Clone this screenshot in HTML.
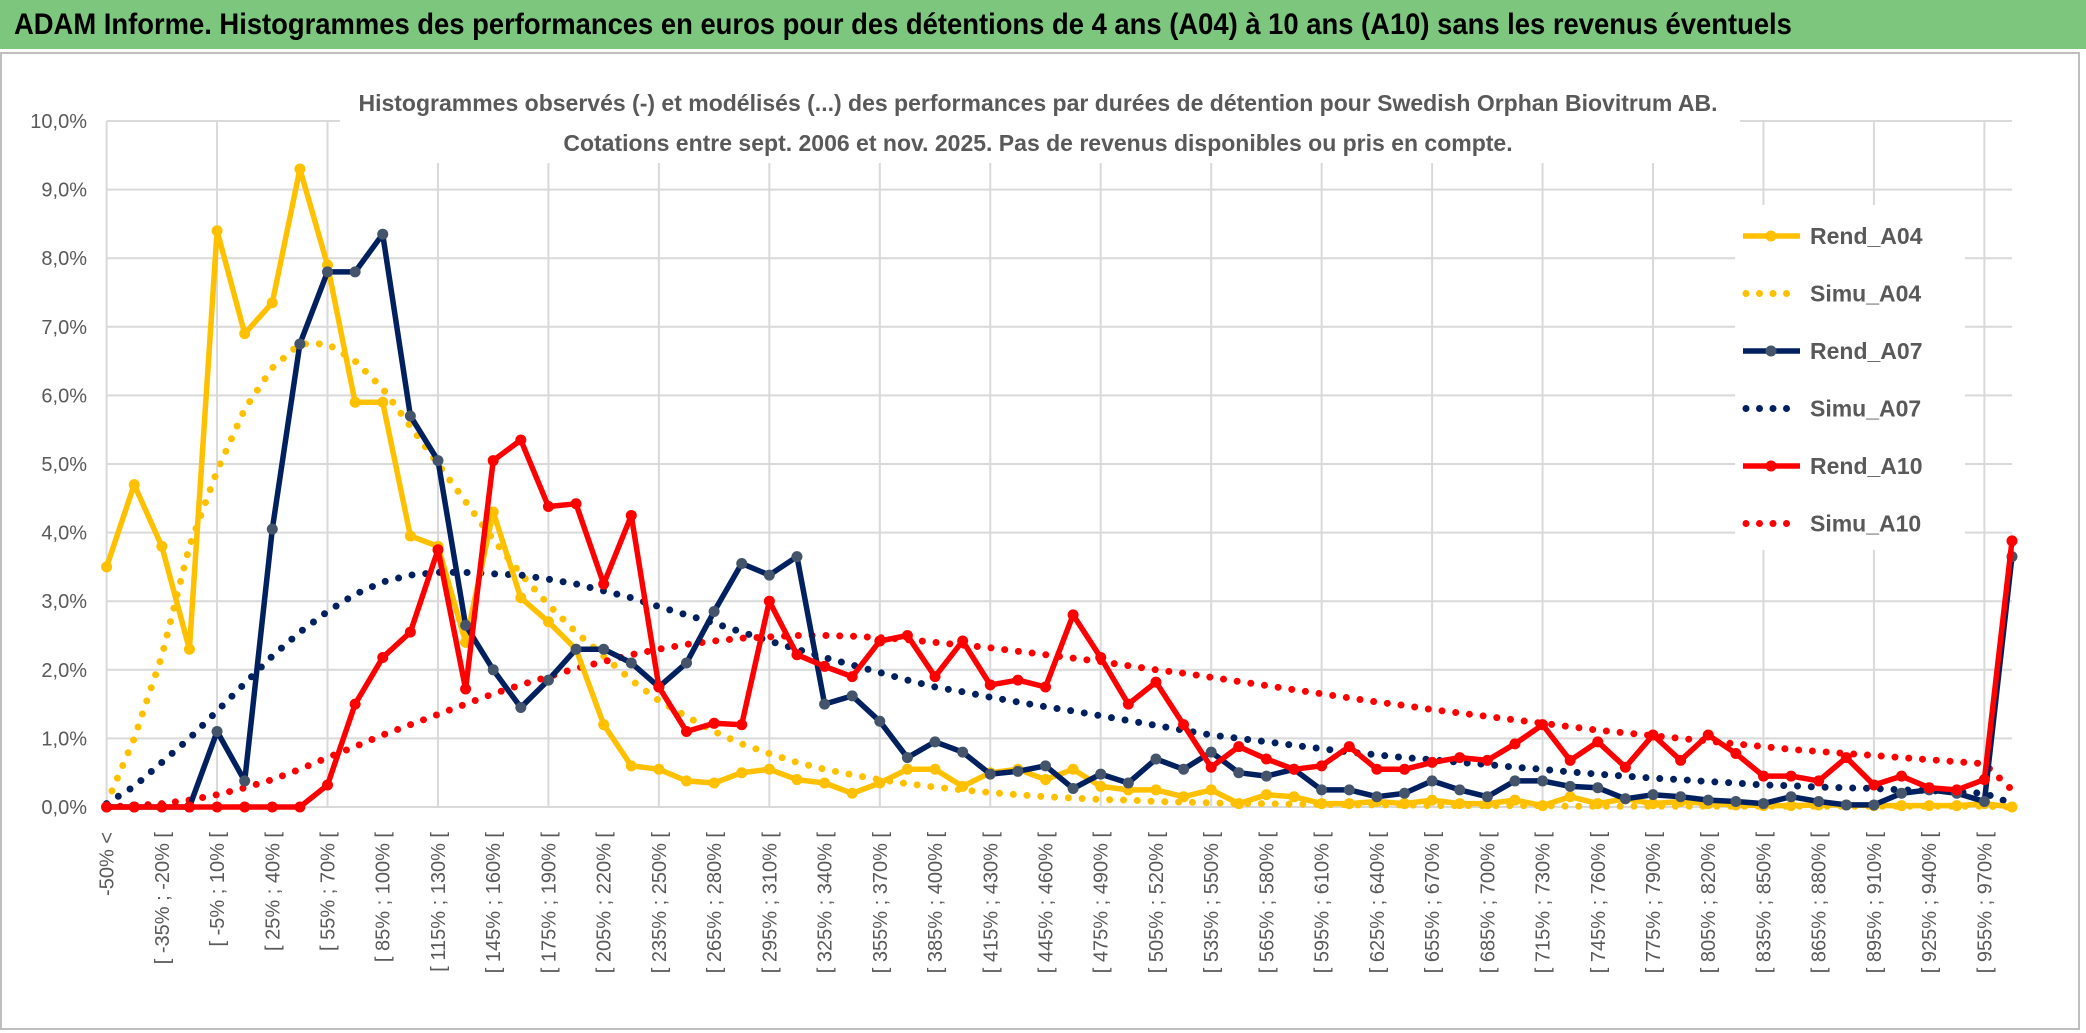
<!DOCTYPE html>
<html><head><meta charset="utf-8"><style>
body{margin:0;width:2086px;height:1033px;overflow:hidden;background:#fff;font-family:"Liberation Sans",sans-serif}
#title{position:absolute;left:0;top:0;width:2086px;height:49px;background:#7dc67e;color:#000}
#title span{position:absolute;left:14px;top:0;font-weight:bold;font-size:30px;line-height:49px;white-space:nowrap;transform:scaleX(0.913);transform-origin:0 50%}
svg{position:absolute;left:0;top:0}
</style></head><body>
<div id="title"><span>ADAM Informe. Histogrammes des performances en euros pour des détentions de 4 ans (A04) à 10 ans (A10) sans les revenus éventuels</span></div>
<svg id="chart" width="2086" height="1033"></svg>
<script>
const categoryStarts=[-50,-35,-20,-5,10,25,40,55,70,85,100,115,130,145,160,175,190,205,220,235,250,265,280,295,310,325,340,355,370,385,400,415,430,445,460,475,490,505,520,535,550,565,580,595,610,625,640,655,670,685,700,715,730,745,760,775,790,805,820,835,850,865,880,895,910,925,940,955,970];
const yTicks=[0,1,2,3,4,5,6,7,8,9,10];
const rendA04=[3.5,4.7,3.8,2.3,8.4,6.9,7.35,9.3,7.9,5.9,5.9,3.95,3.8,2.4,4.3,3.05,2.7,2.3,1.2,0.6,0.55,0.38,0.35,0.5,0.55,0.4,0.35,0.2,0.35,0.55,0.55,0.3,0.5,0.55,0.4,0.55,0.3,0.25,0.25,0.15,0.25,0.05,0.18,0.15,0.05,0.05,0.08,0.05,0.1,0.05,0.05,0.1,0.02,0.15,0.05,0.12,0.05,0.08,0.05,0.03,0.02,0.02,0.03,0.03,0.02,0.02,0.02,0.02,0.05,0.0];
const simuA04=[0.05,1.0,2.2,3.8,4.9,5.8,6.4,6.75,6.75,6.5,6.1,5.55,5.0,4.45,3.9,3.4,2.95,2.55,2.2,1.85,1.55,1.32,1.1,0.92,0.78,0.65,0.55,0.47,0.4,0.34,0.29,0.25,0.21,0.18,0.15,0.13,0.11,0.1,0.08,0.07,0.06,0.05,0.05,0.04,0.04,0.03,0.03,0.03,0.02,0.02,0.02,0.02,0.02,0.01,0.01,0.01,0.01,0.01,0.01,0.01,0.01,0.01,0.01,0.01,0.01,0.01,0.01,0.01,0.01,0.0];
const rendA07=[0,0,0,0,1.1,0.38,4.05,6.75,7.8,7.8,8.35,5.7,5.05,2.65,2.0,1.45,1.85,2.3,2.3,2.1,1.75,2.1,2.85,3.55,3.38,3.65,1.5,1.62,1.25,0.72,0.95,0.8,0.48,0.52,0.6,0.27,0.48,0.35,0.7,0.55,0.8,0.5,0.45,0.55,0.25,0.25,0.15,0.2,0.38,0.25,0.15,0.38,0.38,0.3,0.28,0.12,0.18,0.15,0.1,0.08,0.05,0.15,0.08,0.03,0.03,0.2,0.25,0.2,0.08,3.65];
const simuA07=[0.05,0.3,0.65,1.0,1.4,1.8,2.2,2.55,2.85,3.1,3.28,3.38,3.42,3.42,3.4,3.38,3.32,3.25,3.15,3.05,2.92,2.8,2.68,2.55,2.42,2.3,2.18,2.07,1.96,1.85,1.75,1.68,1.6,1.53,1.46,1.4,1.33,1.26,1.19,1.12,1.05,1.0,0.95,0.9,0.85,0.8,0.76,0.72,0.69,0.65,0.62,0.58,0.55,0.51,0.48,0.45,0.42,0.4,0.37,0.35,0.32,0.31,0.29,0.28,0.27,0.25,0.24,0.22,0.2,0.05];
const rendA10=[0,0,0,0,0,0,0,0,0.32,1.5,2.18,2.55,3.75,1.72,5.05,5.35,4.38,4.42,3.25,4.25,1.75,1.1,1.22,1.2,3.0,2.22,2.05,1.9,2.42,2.5,1.9,2.42,1.78,1.85,1.75,2.8,2.18,1.5,1.82,1.2,0.58,0.88,0.7,0.55,0.6,0.88,0.55,0.55,0.65,0.72,0.68,0.92,1.2,0.68,0.95,0.58,1.05,0.68,1.05,0.78,0.45,0.45,0.38,0.72,0.32,0.45,0.28,0.25,0.4,3.88];
const simuA10=[0,0.02,0.05,0.1,0.18,0.28,0.4,0.55,0.72,0.88,1.05,1.2,1.35,1.5,1.65,1.78,1.9,2.02,2.12,2.22,2.3,2.37,2.42,2.46,2.48,2.5,2.5,2.49,2.47,2.44,2.4,2.36,2.32,2.27,2.22,2.17,2.12,2.06,2.0,1.95,1.89,1.83,1.77,1.71,1.65,1.59,1.53,1.48,1.42,1.37,1.32,1.27,1.22,1.17,1.12,1.08,1.04,1.0,0.96,0.92,0.88,0.84,0.81,0.78,0.75,0.72,0.69,0.66,0.63,0.25];

const NS='http://www.w3.org/2000/svg';
const svg=document.getElementById('chart');
const N=rendA04.length;
const X0=106.6,X1=2012,Y0=807,Y10=121;
const xs=i=>X0+(X1-X0)*i/(N-1);
const ys=v=>Y0-(Y0-Y10)*v/10;
function mk(tag,at,parent){const e=document.createElementNS(NS,tag);for(const k in at)e.setAttribute(k,at[k]);(parent||svg).appendChild(e);return e;}
function pct(v){return v.toFixed(1).replace('.',',')+'%';}
const brd=mk('rect',{x:1,y:53,width:2078,height:976,fill:'none',stroke:'#bfbfbf','stroke-width':2});


const grid=mk('g',{});


yTicks.forEach(t=>{mk('line',{x1:X0,x2:X1,y1:ys(t),y2:ys(t),stroke:'#d9d9d9','stroke-width':2},grid);});
for(let i=0;i<N;i+=4){mk('line',{x1:xs(i),x2:xs(i),y1:Y10,y2:Y0,stroke:'#d9d9d9','stroke-width':2},grid);}
const yl=mk('g',{});


yTicks.forEach(t=>{const e=mk('text',{x:87,y:ys(t)+7,'text-anchor':'end','font-size':20,fill:'#595959'},yl);e.textContent=pct(t);});
const xl=mk('g',{});


for(let i=0;i<N-1;i+=2){
  const lab=i===0?'-50% <':'[ '+categoryStarts[i-1]+'% ; '+categoryStarts[i]+'% [';
  const x=xs(i)+7,y=832;
  const e=mk('text',{x:x,y:y,transform:`rotate(-90 ${x} ${y})`,'text-anchor':'end','font-size':20,fill:'#595959'},xl);
  e.textContent=lab;
}
const sb=mk('rect',{x:340,y:78,width:1400,height:85,fill:'#fff'});


const st=mk('g',{});


[['Histogrammes observés (-) et modélisés (...) des performances par durées de détention pour Swedish Orphan Biovitrum AB.',111],['Cotations entre sept. 2006 et nov. 2025. Pas de revenus disponibles ou pris en compte.',151]].forEach(([t,y])=>{const e=mk('text',{x:1038,y:y,'text-anchor':'middle','font-size':23,'font-weight':'bold',fill:'#595959'},st);e.textContent=t;});
const series=[
 {name:'Rend_A04',d:rendA04,c:'#ffc000',dot:false,m:'#ffc000'},
 {name:'Simu_A04',d:simuA04,c:'#ffc000',dot:true},
 {name:'Rend_A07',d:rendA07,c:'#002060',dot:false,m:'#44546a'},
 {name:'Simu_A07',d:simuA07,c:'#002060',dot:true},
 {name:'Rend_A10',d:rendA10,c:'#ff0000',dot:false,m:'#ff0000'},
 {name:'Simu_A10',d:simuA10,c:'#ff0000',dot:true}];
const order=[1,3,5,0,2,4];
order.forEach(k=>{const s=series[k];
  const g=mk('g',{});
  
  
  const pts=s.d.map((v,i)=>xs(i).toFixed(1)+','+ys(v).toFixed(1)).join(' ');
  if(s.dot){mk('polyline',{points:pts,fill:'none',stroke:s.c,'stroke-width':7,'stroke-dasharray':'0 13.8','stroke-linecap':'round'},g);}
  else{mk('polyline',{points:pts,fill:'none',stroke:s.c,'stroke-width':5.5,'stroke-linejoin':'round'},g);
    s.d.forEach((v,i)=>{const c=mk('circle',{cx:xs(i),cy:ys(v),r:5.5,fill:s.m},g);
      
      });}
});
const lg=mk('g',{});


mk('rect',{x:1735,y:205,width:230,height:345,fill:'#fff'},lg);
series.forEach((s,i)=>{const y=236+i*57.5;
  const en=mk('g',{},lg);
  
  
  if(s.dot)mk('line',{x1:1746,x2:1800,y1:y,y2:y,stroke:s.c,'stroke-width':7,'stroke-dasharray':'0 13.5','stroke-linecap':'round'},en);
  else{mk('line',{x1:1743,x2:1800,y1:y,y2:y,stroke:s.c,'stroke-width':5.5},en);mk('circle',{cx:1771,cy:y,r:5.5,fill:s.m},en);}
  const t=mk('text',{x:1810,y:y+8,'font-size':23,'font-weight':'bold',fill:'#595959'},en);t.textContent=s.name;});
</script>
</body></html>
